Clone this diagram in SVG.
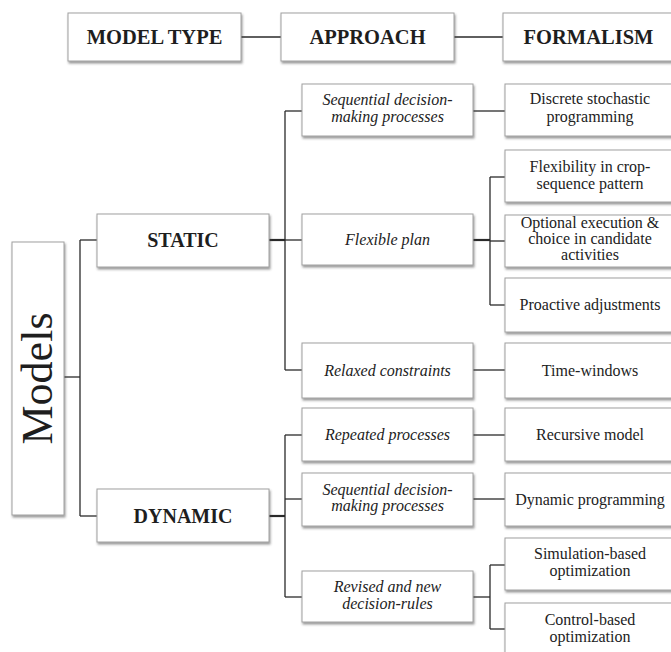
<svg xmlns="http://www.w3.org/2000/svg" width="671" height="652" viewBox="0 0 671 652">
<defs>
<filter id="sh" x="-10%" y="-10%" width="130%" height="140%">
<feDropShadow dx="1" dy="2" stdDeviation="1.2" flood-color="#444" flood-opacity="0.55"/>
</filter>
<style>
.box{fill:#fff;stroke:#a0a0a0;stroke-width:1;filter:url(#sh)}
.hd{font-family:"Liberation Serif","Times New Roman",serif;font-weight:bold;font-size:20.5px;fill:#1e1e1e;text-anchor:middle}
.ty{font-family:"Liberation Serif","Times New Roman",serif;font-weight:bold;font-size:20px;fill:#1e1e1e;text-anchor:middle}
.it{font-family:"Liberation Serif","Times New Roman",serif;font-style:italic;font-size:16px;fill:#222;text-anchor:middle}
.rg{font-family:"Liberation Serif","Times New Roman",serif;font-size:16px;fill:#222;text-anchor:middle}
.big{font-family:"Liberation Serif","Times New Roman",serif;font-size:44px;fill:#1e1e1e;text-anchor:middle}
.cn line{stroke:#2a2a2a;stroke-width:1.3}
.cn line.th{stroke-width:2.2}
</style>
</defs>
<rect width="671" height="652" fill="#fff"/>

<g id="connectors" class="cn">
<line x1="241" y1="37" x2="281" y2="37"/>
<line x1="454" y1="37" x2="503" y2="37"/>
<line x1="64" y1="377" x2="80" y2="377"/>
<line x1="80" y1="240" x2="80" y2="516"/>
<line x1="80" y1="240" x2="97" y2="240"/>
<line x1="80" y1="516" x2="97" y2="516"/>
<line class="th" x1="269" y1="240" x2="285" y2="240"/>
<line x1="285" y1="111" x2="285" y2="370"/>
<line x1="285" y1="111" x2="302" y2="111"/>
<line x1="285" y1="240" x2="302" y2="240"/>
<line x1="285" y1="370" x2="302" y2="370"/>
<line x1="473" y1="111" x2="505" y2="111"/>
<line class="th" x1="473" y1="240" x2="490" y2="240"/>
<line x1="490" y1="177" x2="490" y2="305"/>
<line x1="490" y1="177" x2="505" y2="177"/>
<line x1="490" y1="241" x2="505" y2="241"/>
<line x1="490" y1="305" x2="505" y2="305"/>
<line x1="473" y1="370" x2="505" y2="370"/>
<line class="th" x1="269" y1="516" x2="285" y2="516"/>
<line x1="285" y1="435" x2="285" y2="597"/>
<line x1="285" y1="435" x2="302" y2="435"/>
<line x1="285" y1="499" x2="302" y2="499"/>
<line x1="285" y1="597" x2="302" y2="597"/>
<line x1="473" y1="435" x2="505" y2="435"/>
<line x1="473" y1="499" x2="505" y2="499"/>
<line x1="473" y1="597" x2="490" y2="597"/>
<line x1="490" y1="565" x2="490" y2="629"/>
<line x1="490" y1="565" x2="505" y2="565"/>
<line x1="490" y1="629" x2="505" y2="629"/>
</g>

<g id="h-modeltype"><rect class="box" x="68" y="13" width="173" height="48"/><text class="hd" x="154.5" y="44">MODEL TYPE</text></g>
<g id="h-approach"><rect class="box" x="281" y="13" width="173" height="48"/><text class="hd" x="367.5" y="44">APPROACH</text></g>
<g id="h-formalism"><rect class="box" x="503" y="13" width="175" height="48"/><text class="hd" x="588.5" y="44">FORMALISM</text></g>

<g id="models"><rect class="box" x="12" y="242" width="52" height="273"/><text class="big" transform="translate(52,378.5) rotate(-90)">Models</text></g>

<g id="static"><rect class="box" x="97" y="214" width="172" height="53"/><text class="ty" x="183" y="247">STATIC</text></g>
<g id="dynamic"><rect class="box" x="97" y="489" width="172" height="53"/><text class="ty" x="183" y="523">DYNAMIC</text></g>

<g id="a-seq1"><rect class="box" x="302" y="84" width="171" height="52"/><text class="it" x="387.5" y="105">Sequential  decision-</text><text class="it" x="387.5" y="122">making processes</text></g>
<g id="a-flex"><rect class="box" x="302" y="214" width="171" height="51"/><text class="it" x="387.5" y="245">Flexible  plan</text></g>
<g id="a-relaxed"><rect class="box" x="302" y="343" width="171" height="55"/><text class="it" x="387.5" y="376">Relaxed  constraints</text></g>
<g id="a-repeated"><rect class="box" x="302" y="408" width="171" height="53"/><text class="it" x="387.5" y="440">Repeated  processes</text></g>
<g id="a-seq2"><rect class="box" x="302" y="473" width="171" height="53"/><text class="it" x="387.5" y="495">Sequential  decision-</text><text class="it" x="387.5" y="511">making processes</text></g>
<g id="a-revised"><rect class="box" x="302" y="571" width="171" height="51"/><text class="it" x="387.5" y="592">Revised and new</text><text class="it" x="387.5" y="609">decision-rules</text></g>

<g id="f-discrete"><rect class="box" x="505" y="84" width="172" height="52"/><text class="rg" x="590" y="104">Discrete stochastic</text><text class="rg" x="590" y="122">programming</text></g>
<g id="f-flexibility"><rect class="box" x="505" y="150" width="172" height="52"/><text class="rg" x="590" y="172">Flexibility in crop-</text><text class="rg" x="590" y="189">sequence pattern</text></g>
<g id="f-optional"><rect class="box" x="505" y="215" width="172" height="52"/><text class="rg" x="590" y="228">Optional execution &amp;</text><text class="rg" x="590" y="244">choice in candidate</text><text class="rg" x="590" y="260">activities</text></g>
<g id="f-proactive"><rect class="box" x="505" y="278" width="172" height="54"/><text class="rg" x="590" y="310">Proactive  adjustments</text></g>
<g id="f-time"><rect class="box" x="505" y="343" width="172" height="55"/><text class="rg" x="590" y="376">Time-windows</text></g>
<g id="f-recursive"><rect class="box" x="505" y="408" width="172" height="53"/><text class="rg" x="590" y="440">Recursive model</text></g>
<g id="f-dp"><rect class="box" x="505" y="473" width="172" height="53"/><text class="rg" x="590" y="505">Dynamic programming</text></g>
<g id="f-simulation"><rect class="box" x="505" y="538" width="172" height="52"/><text class="rg" x="590" y="559">Simulation-based</text><text class="rg" x="590" y="576">optimization</text></g>
<g id="f-control"><rect class="box" x="505" y="603" width="172" height="55"/><text class="rg" x="590" y="625">Control-based</text><text class="rg" x="590" y="642">optimization</text></g>
</svg>
